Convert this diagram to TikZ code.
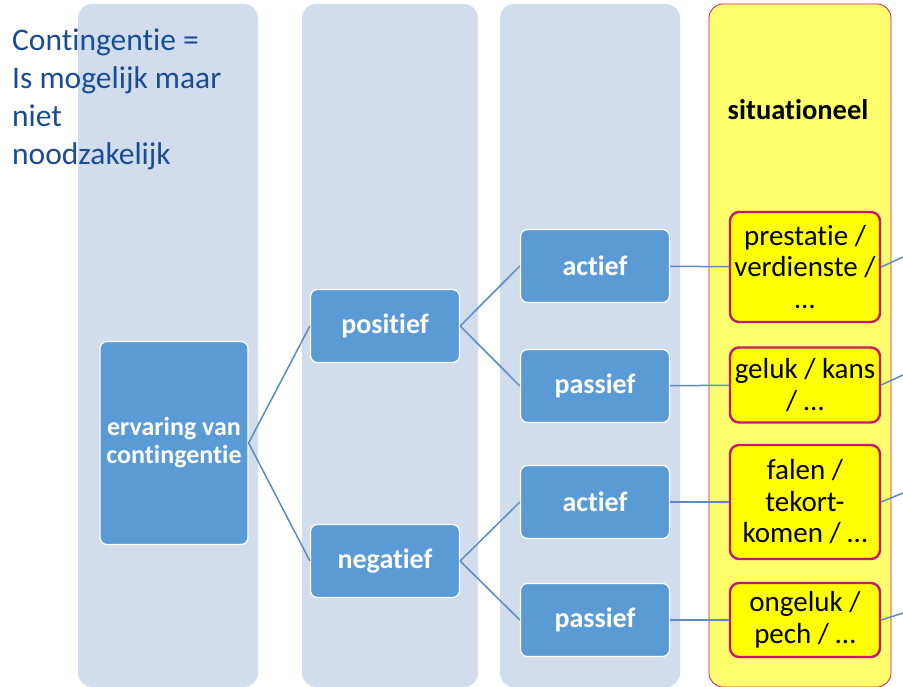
\documentclass[tikz,border=0pt]{standalone}
\usepackage{fontspec}
\setmainfont{Carlito}[Ligatures=NoCommon]
\usetikzlibrary{positioning}
\definecolor{colbg}{HTML}{D1DDEC}
\definecolor{boxblue}{HTML}{5B9BD5}
\definecolor{linkblue}{HTML}{5A8BC2}
\definecolor{sityellow}{HTML}{FFFF6E}
\definecolor{boxyellow}{HTML}{FFFF00}
\definecolor{rim}{HTML}{C8186E}
\definecolor{noteblue}{HTML}{1A4C94}

\begin{document}
\begin{tikzpicture}[x=1pt,y=-1pt,
		column/.style={fill=colbg,rounded corners=14pt},
		catbox/.style={draw=white,line width=1.2pt,fill=boxblue,rounded corners=7pt,text=white,font=\fontsize{28}{30}\selectfont\bfseries,minimum width=149pt,minimum height=73pt,align=center},
		sitbox/.style={draw=rim,line width=2.4pt,fill=boxyellow,rounded corners=9pt,minimum width=150pt,align=center,inner sep=2pt,font=\fontsize{29}{31.5}\selectfont},
		link/.style={draw=linkblue,line width=1.5pt}]
		\useasboundingbox (0,0) rectangle (903,687);
		% background columns
		\fill[column] (78,4) rectangle (258,687);
		\fill[column] (302,4) rectangle (478,687);
		\fill[column] (500,4) rectangle (680,687);
		\filldraw[column,fill=sityellow,draw=rim,line width=0.8pt] (709,4) rectangle (891,687);
		
		\node[anchor=base west,align=left,inner sep=0pt,text=noteblue,font=\fontsize{31.5}{38}\selectfont] (note) at (12,165) {Contingentie =\\Is mogelijk maar\\niet\\noodzakelijk};
		\node[font=\fontsize{28.5}{32}\selectfont\bfseries] (sit) at (798,110) {situationeel};
		
		\node[catbox,minimum width=148pt,minimum height=203pt,font=\fontsize{26}{28}\selectfont\bfseries] (erv) at (174,443) {ervaring van\\contingentie};
		\node[catbox] (pos) at (385,326) {positief};
		\node[catbox] (neg) at (385,561) {negatief};
		\node[catbox] (act1) at (595,266) {actief};
		\node[catbox] (pas1) at (595,386) {passief};
		\node[catbox] (act2) at (595,502) {actief};
		\node[catbox] (pas2) at (595,620) {passief};
		
		\node[sitbox,minimum height=110pt] (prest) at (805,267) {prestatie /\\verdienste /\\\ldots};
		\node[sitbox,minimum height=75pt] (geluk) at (805,385) {geluk / kans\\/ \ldots};
		\node[sitbox,minimum height=114pt] (falen) at (805,502) {falen /\\tekort-\\komen / \ldots};
		\node[sitbox,minimum height=74pt] (ongel) at (805,620) {ongeluk /\\pech / \ldots};
		
		\coordinate (out1) at (903,257);
		\coordinate (out2) at (903,375);
		\coordinate (out3) at (903,493);
		\coordinate (out4) at (903,613);
		
		\draw[link] (erv.east) -- (pos.west);
		\draw[link] (erv.east) -- (neg.west);
		\draw[link] (pos.east) -- (act1.west);
		\draw[link] (pos.east) -- (pas1.west);
		\draw[link] (neg.east) -- (act2.west);
		\draw[link] (neg.east) -- (pas2.west);
		
		\draw[link] (act1) -- (prest);
		\draw[link] (pas1) -- (geluk);
		\draw[link] (act2) -- (falen);
		\draw[link] (pas2) -- (ongel);
		
		\draw[link] (prest.east) -- (out1);
		\draw[link] (geluk.east) -- (out2);
		\draw[link] (falen.east) -- (out3);
		\draw[link] (ongel.east) -- (out4);
\end{tikzpicture}
\end{document}
